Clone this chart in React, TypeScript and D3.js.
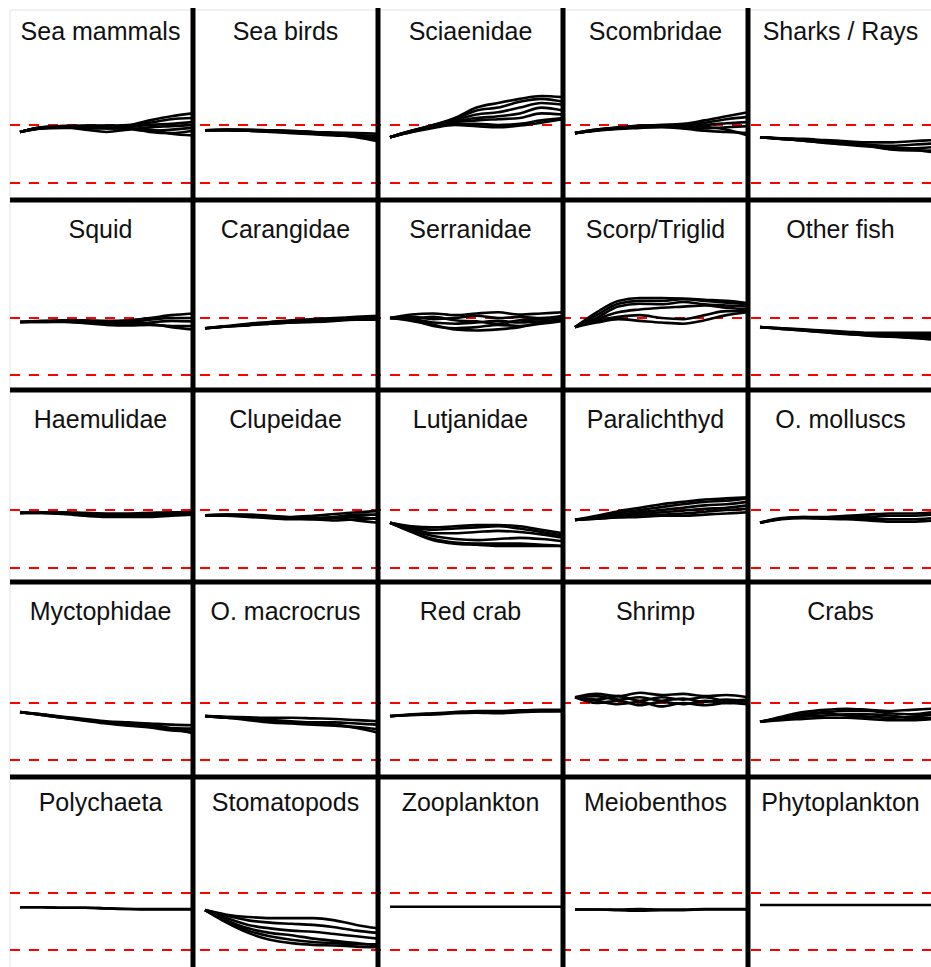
import React from 'react';
import * as d3 from 'd3';

// Time steps (relative simulation years)
const steps = [0, 1, 2, 3, 4, 5, 6, 7, 8];

// Panel titles, row by row
const groupNames = [
  'Sea mammals', 'Sea birds', 'Sciaenidae', 'Scombridae', 'Sharks / Rays',
  'Squid', 'Carangidae', 'Serranidae', 'Scorp/Triglid', 'Other fish',
  'Haemulidae', 'Clupeidae', 'Lutjanidae', 'Paralichthyd', 'O. molluscs',
  'Myctophidae', 'O. macrocrus', 'Red crab', 'Shrimp', 'Crabs',
  'Polychaeta', 'Stomatopods', 'Zooplankton', 'Meiobenthos', 'Phytoplankton',
];

// Relative biomass trajectories (1 = upper dashed line, 0 = lower dashed line)
const seaMammals = [
  [0.88, 0.96, 0.98, 0.99, 0.99, 1.0, 1.08, 1.15, 1.2],
  [0.88, 0.96, 0.98, 0.98, 0.98, 0.99, 1.04, 1.1, 1.12],
  [0.88, 0.95, 0.97, 0.97, 0.96, 0.97, 1.0, 1.02, 1.05],
  [0.88, 0.95, 0.96, 0.92, 0.88, 0.92, 0.96, 0.98, 1.0],
  [0.88, 0.95, 0.96, 0.96, 0.95, 0.93, 0.9, 0.92, 0.95],
  [0.88, 0.94, 0.96, 0.95, 0.94, 0.95, 0.88, 0.86, 0.9],
  [0.88, 0.94, 0.95, 0.95, 0.95, 0.94, 0.92, 0.85, 0.82],
];
const seaBirds = [
  [0.91, 0.92, 0.92, 0.91, 0.9, 0.88, 0.87, 0.86, 0.85],
  [0.91, 0.91, 0.9, 0.89, 0.87, 0.85, 0.83, 0.8, 0.78],
  [0.91, 0.91, 0.9, 0.88, 0.86, 0.84, 0.82, 0.8, 0.74],
  [0.91, 0.92, 0.91, 0.9, 0.89, 0.88, 0.85, 0.83, 0.8],
  [0.91, 0.91, 0.9, 0.89, 0.88, 0.86, 0.84, 0.79, 0.72],
];
const sciaenidae = [
  [0.79, 0.9, 1.0, 1.12, 1.3, 1.38, 1.45, 1.5, 1.48],
  [0.79, 0.9, 1.0, 1.1, 1.25, 1.3, 1.4, 1.45, 1.4],
  [0.79, 0.9, 0.99, 1.08, 1.18, 1.22, 1.3, 1.38, 1.35],
  [0.79, 0.89, 0.98, 1.06, 1.12, 1.15, 1.2, 1.3, 1.25],
  [0.79, 0.89, 0.97, 1.05, 1.08, 1.1, 1.12, 1.2, 1.18],
  [0.79, 0.88, 0.96, 1.02, 1.02, 1.0, 1.02, 1.08, 1.12],
  [0.79, 0.88, 0.95, 1.0, 0.98, 0.96, 0.99, 1.04, 1.1],
];
const scombridae = [
  [0.86, 0.92, 0.96, 0.99, 1.0, 1.02, 1.08, 1.15, 1.22],
  [0.86, 0.92, 0.95, 0.98, 1.0, 1.0, 1.04, 1.1, 1.14],
  [0.86, 0.91, 0.95, 0.97, 0.98, 0.98, 1.0, 1.03, 1.05],
  [0.86, 0.91, 0.94, 0.96, 0.97, 0.95, 0.94, 0.96, 0.98],
  [0.86, 0.91, 0.94, 0.96, 0.96, 0.94, 0.9, 0.88, 0.86],
  [0.86, 0.9, 0.93, 0.95, 0.97, 0.99, 0.97, 0.92, 0.82],
];
const sharksRays = [
  [0.79, 0.77, 0.76, 0.74, 0.72, 0.7, 0.7, 0.72, 0.74],
  [0.79, 0.77, 0.75, 0.72, 0.7, 0.66, 0.64, 0.66, 0.68],
  [0.79, 0.76, 0.74, 0.71, 0.69, 0.65, 0.6, 0.6, 0.62],
  [0.79, 0.76, 0.73, 0.7, 0.68, 0.64, 0.58, 0.56, 0.56],
  [0.79, 0.76, 0.73, 0.69, 0.66, 0.63, 0.6, 0.58, 0.53],
];
const squid = [
  [0.93, 0.95, 0.96, 0.96, 0.95, 0.96, 1.0, 1.05, 1.08],
  [0.93, 0.94, 0.95, 0.94, 0.93, 0.93, 0.97, 1.0, 1.0],
  [0.93, 0.94, 0.94, 0.93, 0.9, 0.9, 0.92, 0.95, 0.94],
  [0.93, 0.93, 0.93, 0.91, 0.88, 0.87, 0.88, 0.86, 0.86],
  [0.93, 0.93, 0.94, 0.92, 0.9, 0.92, 0.9, 0.84, 0.8],
];
const carangidae = [
  [0.82, 0.86, 0.9, 0.93, 0.96, 0.98, 1.0, 1.02, 1.04],
  [0.82, 0.85, 0.88, 0.91, 0.94, 0.96, 0.98, 1.0, 1.0],
  [0.82, 0.85, 0.88, 0.9, 0.92, 0.94, 0.96, 0.97, 0.97],
  [0.82, 0.85, 0.87, 0.9, 0.92, 0.93, 0.95, 0.98, 1.01],
];
const serranidae = [
  [1.0, 1.06, 1.08, 1.05, 1.08, 1.1, 1.06, 1.08, 1.1],
  [1.0, 1.02, 0.98, 1.0, 1.04, 1.0, 1.02, 1.0, 1.04],
  [1.0, 0.98, 0.92, 0.9, 0.92, 0.95, 0.92, 0.94, 0.98],
  [1.0, 0.96, 0.86, 0.82, 0.84, 0.88, 0.86, 0.9, 0.95],
  [1.0, 0.95, 0.88, 0.8, 0.78, 0.8, 0.84, 0.92, 0.96],
  [1.0, 1.0, 1.02, 0.96, 0.94, 0.9, 0.96, 0.98, 1.02],
];
const scorpTriglid = [
  [0.84, 1.1, 1.3, 1.35, 1.35, 1.34, 1.32, 1.3, 1.26],
  [0.84, 1.05, 1.25, 1.3, 1.3, 1.33, 1.3, 1.27, 1.24],
  [0.84, 1.0, 1.2, 1.25, 1.24, 1.28, 1.24, 1.22, 1.2],
  [0.84, 0.98, 1.1, 1.15, 1.18, 1.2, 1.22, 1.18, 1.15],
  [0.84, 0.95, 1.02, 1.05, 1.0, 0.98, 1.05, 1.12, 1.12],
  [0.84, 0.92, 0.98, 0.95, 0.92, 0.9, 0.96, 1.05, 1.1],
];
const otherFish = [
  [0.84, 0.82, 0.8, 0.78, 0.76, 0.74, 0.74, 0.74, 0.74],
  [0.84, 0.82, 0.79, 0.76, 0.74, 0.72, 0.7, 0.7, 0.7],
  [0.84, 0.81, 0.78, 0.75, 0.72, 0.69, 0.67, 0.66, 0.66],
  [0.84, 0.81, 0.78, 0.75, 0.72, 0.7, 0.68, 0.65, 0.62],
];
const haemulidae = [
  [0.95, 0.96, 0.96, 0.95, 0.94, 0.94, 0.95, 0.96, 0.96],
  [0.95, 0.95, 0.94, 0.92, 0.9, 0.9, 0.91, 0.92, 0.93],
  [0.95, 0.95, 0.93, 0.9, 0.88, 0.88, 0.88, 0.9, 0.92],
  [0.95, 0.96, 0.95, 0.93, 0.92, 0.91, 0.93, 0.94, 0.95],
];
const clupeidae = [
  [0.91, 0.92, 0.92, 0.9, 0.88, 0.9, 0.93, 0.96, 0.98],
  [0.91, 0.91, 0.9, 0.88, 0.86, 0.86, 0.88, 0.92, 0.92],
  [0.91, 0.91, 0.89, 0.87, 0.86, 0.84, 0.82, 0.84, 0.86],
  [0.91, 0.9, 0.88, 0.86, 0.84, 0.84, 0.86, 0.82, 0.78],
  [0.91, 0.92, 0.91, 0.89, 0.87, 0.85, 0.88, 0.88, 0.84],
];
const lutjanidae = [
  [0.78, 0.72, 0.7, 0.72, 0.74, 0.74, 0.72, 0.66, 0.6],
  [0.78, 0.7, 0.66, 0.68, 0.7, 0.72, 0.68, 0.62, 0.56],
  [0.78, 0.68, 0.6, 0.6, 0.62, 0.64, 0.62, 0.58, 0.52],
  [0.78, 0.65, 0.55, 0.5, 0.48, 0.5, 0.52, 0.5, 0.46],
  [0.78, 0.63, 0.5, 0.44, 0.42, 0.42, 0.42, 0.4, 0.38],
  [0.78, 0.62, 0.48, 0.42, 0.4, 0.38, 0.38, 0.38, 0.38],
];
const paralichthyd = [
  [0.83, 0.9, 0.98, 1.04, 1.1, 1.14, 1.18, 1.2, 1.22],
  [0.83, 0.88, 0.95, 1.0, 1.05, 1.1, 1.14, 1.16, 1.2],
  [0.83, 0.87, 0.92, 0.96, 1.0, 1.04, 1.08, 1.1, 1.14],
  [0.83, 0.86, 0.9, 0.93, 0.96, 0.99, 1.02, 1.04, 1.08],
  [0.83, 0.85, 0.88, 0.9, 0.92, 0.94, 0.97, 1.0, 1.02],
  [0.83, 0.85, 0.87, 0.88, 0.9, 0.9, 0.92, 0.94, 0.96],
];
const oMolluscs = [
  [0.78, 0.86, 0.88, 0.88, 0.9, 0.92, 0.94, 0.94, 0.96],
  [0.78, 0.85, 0.88, 0.87, 0.88, 0.88, 0.9, 0.9, 0.92],
  [0.78, 0.85, 0.87, 0.86, 0.86, 0.85, 0.84, 0.84, 0.86],
  [0.78, 0.84, 0.86, 0.85, 0.84, 0.82, 0.8, 0.8, 0.82],
];
const myctophidae = [
  [0.84, 0.8, 0.76, 0.72, 0.68, 0.66, 0.64, 0.62, 0.61],
  [0.84, 0.8, 0.75, 0.7, 0.66, 0.64, 0.6, 0.56, 0.55],
  [0.84, 0.79, 0.74, 0.69, 0.64, 0.6, 0.57, 0.52, 0.5],
  [0.84, 0.79, 0.74, 0.7, 0.66, 0.62, 0.62, 0.55, 0.47],
];
const oMacrocrus = [
  [0.77, 0.76, 0.75, 0.74, 0.74, 0.73, 0.72, 0.7, 0.68],
  [0.77, 0.74, 0.72, 0.7, 0.68, 0.66, 0.66, 0.64, 0.62],
  [0.77, 0.74, 0.7, 0.66, 0.64, 0.62, 0.6, 0.58, 0.54],
  [0.77, 0.75, 0.72, 0.68, 0.66, 0.66, 0.62, 0.56, 0.48],
];
const redCrab = [
  [0.77, 0.8, 0.82, 0.84, 0.86, 0.86, 0.87, 0.88, 0.88],
  [0.77, 0.79, 0.81, 0.83, 0.84, 0.84, 0.86, 0.86, 0.87],
  [0.77, 0.79, 0.8, 0.82, 0.83, 0.82, 0.84, 0.85, 0.85],
];
const shrimp = [
  [1.1, 1.16, 1.12, 1.18, 1.14, 1.16, 1.12, 1.14, 1.1],
  [1.1, 1.06, 1.12, 1.04, 1.1, 1.06, 1.1, 1.04, 1.06],
  [1.1, 1.0, 1.04, 0.96, 1.02, 0.98, 1.04, 1.0, 1.04],
  [1.1, 1.12, 1.06, 1.1, 1.04, 1.08, 1.02, 1.06, 1.02],
  [1.1, 1.04, 0.98, 1.02, 0.94, 1.0, 0.96, 1.0, 0.98],
];
const crabs = [
  [0.67, 0.76, 0.84, 0.88, 0.9, 0.88, 0.86, 0.88, 0.9],
  [0.67, 0.74, 0.8, 0.84, 0.86, 0.86, 0.82, 0.8, 0.84],
  [0.67, 0.72, 0.76, 0.78, 0.8, 0.8, 0.78, 0.74, 0.74],
  [0.67, 0.7, 0.72, 0.74, 0.74, 0.72, 0.7, 0.7, 0.72],
  [0.67, 0.73, 0.78, 0.82, 0.78, 0.76, 0.74, 0.76, 0.8],
];
const polychaeta = [
  [0.75, 0.75, 0.74, 0.74, 0.73, 0.72, 0.71, 0.71, 0.71],
  [0.75, 0.75, 0.74, 0.74, 0.73, 0.72, 0.72, 0.72, 0.72],
];
const stomatopods = [
  [0.7, 0.62, 0.58, 0.56, 0.56, 0.56, 0.52, 0.44, 0.38],
  [0.7, 0.6, 0.52, 0.48, 0.46, 0.44, 0.4, 0.34, 0.3],
  [0.7, 0.56, 0.44, 0.38, 0.34, 0.32, 0.28, 0.24, 0.2],
  [0.7, 0.5, 0.34, 0.24, 0.18, 0.14, 0.12, 0.1, 0.1],
  [0.7, 0.48, 0.3, 0.18, 0.12, 0.09, 0.08, 0.06, 0.05],
  [0.7, 0.52, 0.38, 0.3, 0.26, 0.2, 0.16, 0.12, 0.08],
];
const zooplankton = [
  [0.76, 0.76, 0.76, 0.76, 0.76, 0.76, 0.76, 0.76, 0.76],
];
const meiobenthos = [
  [0.71, 0.71, 0.71, 0.72, 0.71, 0.71, 0.72, 0.72, 0.72],
  [0.71, 0.71, 0.7, 0.69, 0.7, 0.7, 0.71, 0.71, 0.71],
];
const phytoplankton = [
  [0.79, 0.79, 0.79, 0.79, 0.79, 0.79, 0.79, 0.79, 0.79],
];

const trajectories = [
  seaMammals, seaBirds, sciaenidae, scombridae, sharksRays,
  squid, carangidae, serranidae, scorpTriglid, otherFish,
  haemulidae, clupeidae, lutjanidae, paralichthyd, oMolluscs,
  myctophidae, oMacrocrus, redCrab, shrimp, crabs,
  polychaeta, stomatopods, zooplankton, meiobenthos, phytoplankton,
];

// Layout
const W = 931;
const H = 967;
const COLS = 5;
const colLeft = 8;
const colW = 185;
const rowLines = [200, 390, 582, 777];
const dashTop = [125, 318, 510, 703, 893];
const dashBottom = [183, 375, 568, 760, 950];
const titleBase = [40, 238, 428, 620, 811];

export default function App() {
  const panels = groupNames.map((name, i) => {
    const r = Math.floor(i / COLS);
    const c = i % COLS;
    const left = colLeft + c * colW;
    const x = d3.scaleLinear().domain([0, steps.length - 1]).range([left + 12, left + colW]);
    const y = d3.scaleLinear().domain([0, 1]).range([dashBottom[r], dashTop[r]]);
    const line = d3
      .line<number>()
      .x((_, k) => x(steps[k]))
      .y((v) => y(v))
      .curve(d3.curveMonotoneX);
    return { name, r, c, left, paths: trajectories[i].map((s) => line(s) as string) };
  });

  return (
    <svg
      width={W}
      height={H}
      style={{ position: 'absolute', left: 0, top: 0, background: '#fff' }}
      fontFamily="'Liberation Sans', Arial, sans-serif"
    >
      <rect x={0} y={0} width={W} height={H} fill="#fff" />
      <line x1={10} x2={W} y1={10} y2={10} stroke="#e4e4e4" strokeWidth={1} />
      <line x1={10} x2={10} y1={10} y2={H} stroke="#e4e4e4" strokeWidth={1} />
      {dashTop.map((d, r) => (
        <g key={'d' + r}>
          <line x1={10} x2={W} y1={d} y2={d} stroke="#ff0000" strokeWidth={2} strokeDasharray="10 9" />
          <line x1={10} x2={W} y1={dashBottom[r]} y2={dashBottom[r]} stroke="#ff0000" strokeWidth={2} strokeDasharray="10 9" />
        </g>
      ))}
      {panels.map((p, i) => (
        <g key={i}>
          <text
            x={p.left + colW / 2}
            y={titleBase[p.r]}
            textAnchor="middle"
            fontSize={25}
            fill="#111"
          >
            {p.name}
          </text>
          {p.paths.map((d, k) => (
            <path key={k} d={d} fill="none" stroke="#000" strokeWidth={2.6} />
          ))}
        </g>
      ))}
      {rowLines.map((ry, k) => (
        <line key={'h' + k} x1={10} x2={W} y1={ry} y2={ry} stroke="#000" strokeWidth={5} />
      ))}
      {d3.range(1, COLS).map((c) => (
        <line
          key={'v' + c}
          x1={colLeft + c * colW}
          x2={colLeft + c * colW}
          y1={8}
          y2={H}
          stroke="#000"
          strokeWidth={5}
        />
      ))}
    </svg>
  );
}
